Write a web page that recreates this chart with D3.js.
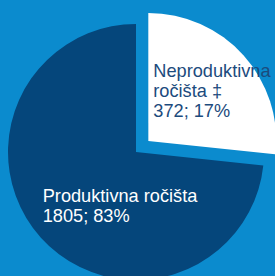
<!DOCTYPE html>
<html><head><meta charset="utf-8">
<script src="https://cdn.jsdelivr.net/npm/d3@7"></script>
<style>html,body{margin:0;padding:0;background:#0b8bce;overflow:hidden}</style>
</head><body>
<svg id="c" width="275" height="276"></svg>
<script>
// Data
const categories = ["Neproduktivna ročišta ‡", "Produktivna ročišta"];
const counts = [372, 1805];
const percents = [17, 83];
// angular share of each slice as drawn in the picture (degrees of the circle)
const drawnAngles = [96, 264];
const colors = ["#ffffff", "#05467b"];
const labelColors = ["#1c4b7d", "#ffffff"];
const labelLines = [
  ["Neproduktivna", "ročišta ‡", counts[0] + "; " + percents[0] + "%"],
  ["Produktivna ročišta", counts[1] + "; " + percents[1] + "%"]
];

const svg = d3.select("#c");
svg.append("rect").attr("width", 275).attr("height", 276).attr("fill", "#0b8bce");

const cx = 136, cy = 152, r = 128, explode = 16.6;
const pie = d3.pie().sort(null).value(d => d);
const arcs = pie(drawnAngles);
const arc = d3.arc().innerRadius(0).outerRadius(r);

const g = svg.append("g").attr("transform", `translate(${cx},${cy})`);
g.selectAll("path").data(arcs).join("path")
  .attr("d", arc)
  .attr("fill", (d, i) => colors[i])
  .attr("transform", (d, i) => {
    if (i !== 0) return null;
    const a = (d.startAngle + d.endAngle) / 2;
    return `translate(${explode * Math.sin(a)},${-explode * Math.cos(a)})`;
  });

const labelPos = [[153.3, 77.3], [42.7, 201.7]];
labelLines.forEach((lines, i) => {
  const t = svg.append("text")
    .attr("x", labelPos[i][0]).attr("y", labelPos[i][1])
    .attr("fill", labelColors[i])
    .style("font-family", "'Liberation Sans', Arial, sans-serif")
    .style("font-size", "18.2px");
  lines.forEach((l, j) => {
    t.append("tspan").attr("x", labelPos[i][0]).attr("dy", j === 0 ? 0 : 20).text(l);
  });
});
</script>
</body></html>
